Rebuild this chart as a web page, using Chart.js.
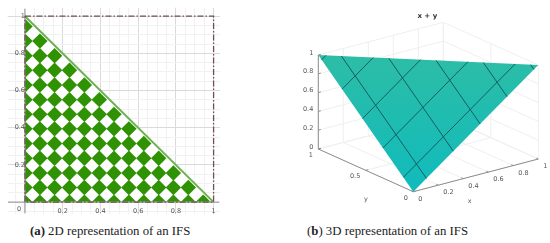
<!DOCTYPE html>
<html>
<head>
<meta charset="utf-8">
<script src="https://cdn.jsdelivr.net/npm/chart.js@4/dist/chart.umd.min.js"></script>
<style>
  html, body { margin: 0; padding: 0; background: #fff; }
  body { position: relative; width: 550px; height: 243px; overflow: hidden; }
  canvas { position: absolute; top: 0; }
  #flat-chart { left: 0; }
  #surface-chart { left: 290px; }
  .caption { position: absolute; top: 224px; font: 12.8px "Liberation Serif", serif; color: #222; white-space: nowrap; }
</style>
</head>
<body>
<canvas id="flat-chart" width="230" height="222"></canvas>
<canvas id="surface-chart" width="260" height="215"></canvas>
<div class="caption" style="left:30px"><b>(a)</b> 2D representation of an IFS</div>
<div class="caption" style="left:307px">(<b>b</b>) 3D representation of an IFS</div>
<script>
// 2D panel
const flatTickLabels = [0.2, 0.4, 0.6, 0.8, 1];
const flatGridStops = [-0.05, 0, 0.05, 0.1, 0.15, 0.2, 0.25, 0.3, 0.35, 0.4, 0.45, 0.5, 0.55, 0.6, 0.65, 0.7, 0.75, 0.8, 0.85, 0.9, 0.95, 1];
const tileStops = [0, 0.079, 0.157, 0.236, 0.315, 0.394, 0.472, 0.551, 0.63, 0.709, 0.787, 0.866, 0.945];
const tilesPerRow = [13, 12, 11, 10, 9, 8, 7, 6, 5, 4, 3, 2, 1];
const triangleX = [0, 1, 0, 0];
const triangleY = [1, 0, 0, 1];
const borderX = [0, 1, 1, 0, 0];
const borderY = [1, 1, 0, 0, 1];

// 3D panel
const meshStops = [0.105, 0.32, 0.535, 0.75, 0.965];
const xTicks = [0, 0.2, 0.4, 0.6, 0.8, 1];
const yTicks = [0, 0.5, 1];
const zTicks = [0, 0.2, 0.4, 0.6, 0.8, 1];
const surfaceCorners = [[0, 0, 0], [1, 0, 1], [0, 1, 1]];

const LABEL_FONT = '6.5px "DejaVu Sans", sans-serif';
const LABEL_COLOR = "#555";

const tilePoints = [];
tilesPerRow.forEach((count, row) => {
  for (let col = 0; col < count; col++) {
    tilePoints.push({ x: tileStops[col], y: tileStops[row] });
  }
});

function pairPoints(xs, ys) {
  return xs.map((x, i) => ({ x, y: ys[i] }));
}

function flatGridColor(ctx) {
  const value = ctx.tick.value;
  return flatTickLabels.includes(value) ? "#dadada" : "#f1f1f1";
}

function flatTick(value) {
  return flatTickLabels.includes(value) ? String(value) : "";
}

const flatZeroLabel = {
  id: "flatZeroLabel",
  afterDraw(chart) {
    const { ctx, scales } = chart;
    ctx.save();
    ctx.font = LABEL_FONT;
    ctx.fillStyle = LABEL_COLOR;
    ctx.textAlign = "center";
    ctx.textBaseline = "middle";
    ctx.fillText("0", scales.x.getPixelForValue(0) - 6, scales.y.getPixelForValue(0) + 7);
    ctx.restore();
  }
};

new Chart(document.getElementById("flat-chart"), {
  type: "scatter",
  data: {
    datasets: [
      { data: pairPoints(borderX, borderY), showLine: true, borderColor: "#6e4f4f", borderWidth: 1.3, borderDash: [6, 2, 1.5, 2], pointRadius: 0, order: 1 },
      { data: [{ x: -0.09, y: 0 }, { x: 1.03, y: 0 }], showLine: true, borderColor: "#8a8a8a", borderWidth: 1, pointRadius: 0, order: 2 },
      { data: [{ x: 0, y: -0.06 }, { x: 0, y: 1.04 }], showLine: true, borderColor: "#8a8a8a", borderWidth: 1, pointRadius: 0, order: 2 },
      { data: [{ x: 0, y: 1 }, { x: 1, y: 0 }], showLine: true, borderColor: "#6cb150", borderWidth: 2, pointRadius: 0, order: 3 },
      { data: tilePoints, pointStyle: "rectRot", pointRadius: 7.7, backgroundColor: "#2e9203", borderWidth: 0, clip: { left: -17.5, top: 0, right: 0, bottom: -12.5 }, order: 4 },
      { data: pairPoints(triangleX, triangleY), showLine: true, fill: "shape", backgroundColor: "#fff", borderWidth: 0, pointRadius: 0, order: 5 }
    ]
  },
  options: {
    responsive: false,
    animation: false,
    layout: { padding: { left: 5, right: 10, top: 5, bottom: 5 } },
    plugins: { legend: { display: false }, tooltip: { enabled: false } },
    scales: {
      x: {
        type: "linear", min: -0.0916, max: 1.034, position: { y: 0 },
        afterBuildTicks: (scale) => { scale.ticks = flatGridStops.map((value) => ({ value })); },
        border: { display: false },
        grid: { color: flatGridColor, drawTicks: false, lineWidth: 1 },
        ticks: { callback: flatTick, autoSkip: false, maxRotation: 0, padding: 5, font: { size: 6.5, family: "DejaVu Sans" }, color: LABEL_COLOR }
      },
      y: {
        type: "linear", min: -0.0655, max: 1.0456, position: { x: 0 },
        afterBuildTicks: (scale) => { scale.ticks = flatGridStops.map((value) => ({ value })); },
        border: { display: false },
        grid: { color: flatGridColor, drawTicks: false, lineWidth: 1 },
        ticks: { callback: flatTick, autoSkip: false, padding: 3, font: { size: 6.5, family: "DejaVu Sans" }, color: LABEL_COLOR }
      }
    }
  },
  plugins: [flatZeroLabel]
});

// view of the 3D box, one unit along each axis in screen units
function project(x, y, z) {
  return { x: 125 * x - 95 * y, y: 32.7 * x + 42.7 * y + 94 * z };
}

function segments(list) {
  const points = [];
  list.forEach(([a, b]) => {
    points.push(project(...a), project(...b), { x: null, y: null });
  });
  return points;
}

const wallLines = [];
xTicks.forEach((c) => {
  wallLines.push([[c, 0, 0], [c, 1, 0]], [[c, 1, 0], [c, 1, 1]]);
});
yTicks.forEach((c) => {
  wallLines.push([[0, c, 0], [1, c, 0]], [[1, c, 0], [1, c, 1]]);
});
zTicks.forEach((c) => {
  wallLines.push([[0, 1, c], [1, 1, c]], [[1, 1, c], [1, 0, c]]);
});

const axisLines = [
  [[0, 0, 0], [1, 0, 0]],
  [[0, 0, 0], [0, 1, 0]],
  [[0, 1, 0], [0, 1, 1]]
];
xTicks.forEach((c) => axisLines.push([[c, 0, 0], [c, 0.02, 0]]));
yTicks.forEach((c) => axisLines.push([[0, c, 0], [0.02, c, 0]]));
zTicks.forEach((c) => axisLines.push([[0, 1, c], [0.02, 1, c]]));

const meshLines = [];
meshStops.forEach((c) => {
  meshLines.push([[c, 0, c], [c, 1 - c, 1]]);
  meshLines.push([[0, c, c], [1 - c, c, 1]]);
});

function surfaceFill(ctx) {
  const { chart } = ctx;
  const gradient = chart.ctx.createLinearGradient(0, 55, 0, 192);
  gradient.addColorStop(0, "#2dbda6");
  gradient.addColorStop(1, "#0fbbbd");
  return gradient;
}

const surfaceLabels = {
  id: "surfaceLabels",
  afterDraw(chart) {
    const { ctx, scales } = chart;
    const put = (text, at, dx, dy, align) => {
      const p = project(...at);
      ctx.textAlign = align;
      ctx.fillText(text, scales.x.getPixelForValue(p.x) + dx, scales.y.getPixelForValue(p.y) + dy);
    };
    ctx.save();
    ctx.font = LABEL_FONT;
    ctx.fillStyle = LABEL_COLOR;
    ctx.textBaseline = "middle";
    xTicks.forEach((c) => put(String(c), [c, 0, 0], 5, 7.5, "left"));
    yTicks.forEach((c) => put(String(c), [0, c, 0], -5.5, 6.3, "right"));
    zTicks.forEach((c) => put(String(c), [0, 1, c], -5, -2, "right"));
    put("x", [0.45, 0, 0], 0, 24, "center");
    put("y", [0, 0.5, 0], 0, 29, "center");
    ctx.font = 'bold 7px "DejaVu Sans", sans-serif';
    ctx.fillStyle = "#333";
    put("x + y", [1, 1, 1], -16, -6, "center");
    ctx.restore();
  }
};

new Chart(document.getElementById("surface-chart"), {
  type: "scatter",
  data: {
    datasets: [
      { data: segments(meshLines), showLine: true, borderColor: "#125f60", borderWidth: 1, pointRadius: 0, spanGaps: false, order: 1 },
      { data: surfaceCorners.map((c) => project(...c)), showLine: true, fill: "shape", backgroundColor: surfaceFill, borderWidth: 0, pointRadius: 0, order: 2 },
      { data: segments(axisLines), showLine: true, borderColor: "#8c8c8c", borderWidth: 1, pointRadius: 0, spanGaps: false, order: 3 },
      { data: segments(wallLines), showLine: true, borderColor: "#efefef", borderWidth: 1, pointRadius: 0, spanGaps: false, order: 4 }
    ]
  },
  options: {
    responsive: false,
    animation: false,
    layout: { padding: 0 },
    plugins: { legend: { display: false }, tooltip: { enabled: false } },
    scales: {
      x: { type: "linear", min: -123.3, max: 136.7, display: false },
      y: { type: "linear", min: -23.3, max: 191.7, display: false }
    }
  },
  plugins: [surfaceLabels]
});
</script>
</body>
</html>
